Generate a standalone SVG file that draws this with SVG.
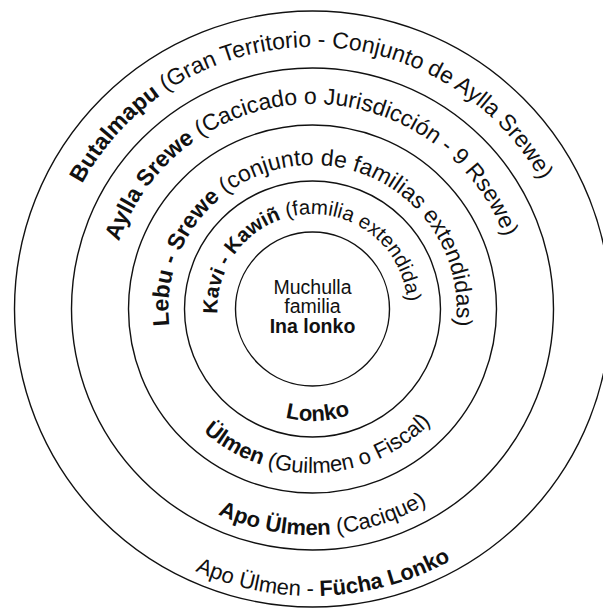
<svg xmlns="http://www.w3.org/2000/svg" xmlns:xlink="http://www.w3.org/1999/xlink" width="603" height="612" viewBox="0 0 603 612">
<style>
.ring{fill:none;stroke:#111;stroke-width:1.4}
.lbl{font-family:"Liberation Sans",Arial,Helvetica,sans-serif;font-size:22px;fill:#111;text-anchor:middle}
.top{font-size:23px}
.sm{font-size:20.5px}
.b{font-weight:bold}
.ctr{font-family:"Liberation Sans",Arial,Helvetica,sans-serif;font-size:19.5px;fill:#111;text-anchor:middle}
</style>
<defs>
<path id="t4" d="M312.5,571 A262,262 0 1 1 312.5,47 A262,262 0 1 1 312.5,571"/>
<path id="t3" d="M312.5,514 A205,205 0 1 1 312.5,104 A205,205 0 1 1 312.5,514"/>
<path id="t2" d="M312.5,453 A144,144 0 1 1 312.5,165 A144,144 0 1 1 312.5,453"/>
<path id="t1" d="M312.5,404 A95,95 0 1 1 312.5,214 A95,95 0 1 1 312.5,404"/>
<path id="b1" d="M312.5,197 A112,112 0 1 0 312.5,421 A112,112 0 1 0 312.5,197"/>
<path id="b2" d="M312.5,145 A164,164 0 1 0 312.5,473 A164,164 0 1 0 312.5,145"/>
<path id="b3" d="M312.5,83 A226,226 0 1 0 312.5,535 A226,226 0 1 0 312.5,83"/>
<path id="b4" d="M312.5,22 A287,287 0 1 0 312.5,596 A287,287 0 1 0 312.5,22"/>
</defs>
<rect width="603" height="612" fill="#fff"/>
<g id="butalmapu">
<circle class="ring" cx="312.5" cy="309" r="298"/>
<text class="lbl top"><textPath href="#t4" startOffset="821"><tspan class="b">Butalmapu</tspan> (Gran Territorio - Conjunto de Aylla Srewe)</textPath></text>
<text class="lbl"><textPath href="#b4" startOffset="913">Apo Ülmen - <tspan class="b">Fücha Lonko</tspan></textPath></text>
</g>
<g id="aylla-srewe">
<circle class="ring" cx="312.5" cy="309" r="241"/>
<text class="lbl top"><textPath href="#t3" startOffset="641.5"><tspan class="b">Aylla Srewe</tspan> (Cacicado o Jurisdicción - 9 Rsewe)</textPath></text>
<text class="lbl"><textPath href="#b3" startOffset="721"><tspan class="b">Apo Ülmen</tspan> (Cacique)</textPath></text>
</g>
<g id="lebu-srewe">
<circle class="ring" cx="312.5" cy="309" r="184"/>
<text class="lbl top"><textPath href="#t2" startOffset="452.4"><tspan class="b">Lebu - Srewe</tspan> (conjunto de familias extendidas)</textPath></text>
<text class="lbl"><textPath href="#b2" startOffset="521.5"><tspan class="b">Ülmen</tspan> (Guilmen o Fiscal)</textPath></text>
</g>
<g id="kavi-kawin">
<circle class="ring" cx="312.5" cy="309" r="128"/>
<text class="lbl sm"><textPath href="#t1" startOffset="292"><tspan class="b">Kavi - Kawiñ</tspan> (familia extendida)</textPath></text>
<text class="lbl b"><textPath href="#b1" startOffset="357">Lonko</textPath></text>
</g>
<g id="muchulla">
<circle class="ring" cx="312.5" cy="309" r="77"/>
<text class="ctr" x="312.5" y="294">Muchulla</text>
<text class="ctr" x="312.5" y="313.3">familia</text>
<text class="ctr b" x="312.5" y="333.3">Ina lonko</text>
</g>
</svg>
